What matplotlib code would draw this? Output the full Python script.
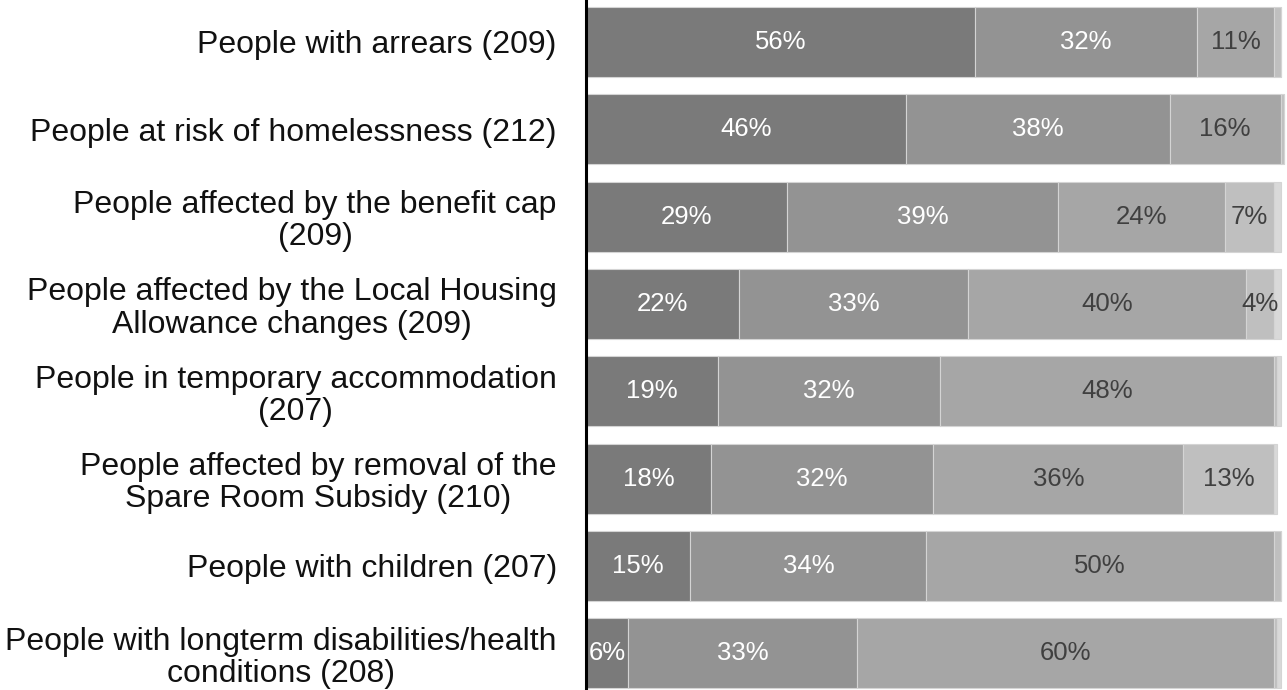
import matplotlib.pyplot as plt
import numpy as np

plt.rcParams['font.family'] = ['Liberation Sans', 'DejaVu Sans']

categories = [
    "People with arrears (209)",
    "People at risk of homelessness (212)",
    "People affected by the benefit cap\n(209)",
    "People affected by the Local Housing\nAllowance changes (209)",
    "People in temporary accommodation\n(207)",
    "People affected by removal of the\nSpare Room Subsidy (210)",
    "People with children (207)",
    "People with longterm disabilities/health\nconditions (208)",
]

# share of respondents per answer band, darkest band first
band1 = [56, 46, 29, 22, 19, 18, 15, 6]
band2 = [32, 38, 39, 33, 32, 32, 34, 33]
band3 = [11, 16, 24, 40, 48, 36, 50, 60]
band4 = [1, 0.5, 7, 4, 0.5, 13, 1, 0.5]
band5 = [0, 0, 1, 1, 0.5, 0.5, 0, 0.5]

bands = [band1, band2, band3, band4, band5]
colors = ['#7a7a7a', '#939393', '#a6a6a6', '#bfbfbf', '#d9d9d9']
text_colors = ['white', 'white', '#404040', '#404040', '#404040']

fig = plt.figure(figsize=(12.87, 6.90), dpi=100)
ax = fig.add_axes([586 / 1287, 0.0, 1 - 586 / 1287, 1.0])

y = np.arange(len(categories))
left = np.zeros(len(categories))
for vals, col, tcol in zip(bands, colors, text_colors):
    vals = np.array(vals, dtype=float)
    ax.barh(y, vals, left=left, height=0.8, color=col,
            edgecolor='#d4d4d4', linewidth=0.8)
    for yi, (l, v) in enumerate(zip(left, vals)):
        if v >= 3:
            ax.text(l + v / 2, yi, f"{v:.0f}%", ha='center', va='center',
                    fontsize=18.5, color=tcol)
    left += vals

ax.set_xlim(0, 100.9)
ax.set_ylim(7.42, -0.48)
ax.set_yticks(y)
ax.set_yticklabels(categories, fontsize=23, multialignment='center',
                   linespacing=1.1, color='#111111')
ax.tick_params(axis='y', length=0, pad=21)
ax.set_xticks([])

for side in ['top', 'right', 'bottom']:
    ax.spines[side].set_visible(False)
ax.spines['left'].set_linewidth(2.2)
ax.spines['left'].set_color('black')

fig.savefig('out.png', dpi=100)
